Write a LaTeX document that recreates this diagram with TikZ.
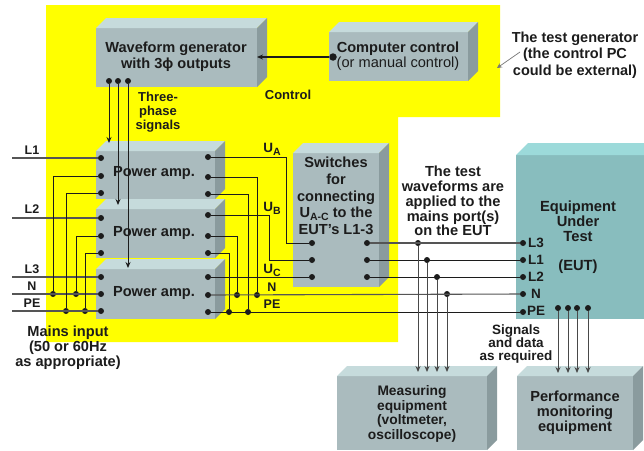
\documentclass[tikz,border=0pt]{standalone}
\usepackage{fontspec}
\setmainfont{Liberation Sans}
\usetikzlibrary{arrows.meta,calc}
\definecolor{yel}{RGB}{255,255,0}
\definecolor{ink}{RGB}{28,28,28}
\definecolor{gfront}{RGB}{170,187,190}
\definecolor{gtop}{RGB}{198,219,220}
\definecolor{gside}{RGB}{138,155,158}
\definecolor{tfront}{RGB}{136,189,190}
\definecolor{ttop}{RGB}{156,218,218}
\newcommand{\boxthree}[5]{% x1,y1,x2,y2,depth
  \fill[gfront] (#1,#2) rectangle (#3,#4);
  \fill[gtop] (#1,#2) -- ++(#5,-#5) -- ($(#3,#2)+(#5,-#5)$) -- (#3,#2) -- cycle;
  \fill[gside] (#3,#2) -- ++(#5,-#5) -- ($(#3,#4)+(#5,-#5)$) -- (#3,#4) -- cycle;
}
\newcommand{\subs}[1]{\raisebox{-3pt}{\fontsize{10.5}{10.5}\selectfont #1}}
\tikzset{
  wire/.style={draw=ink,line width=0.9pt},
  pale/.style={draw=ink!75,line width=1.1pt},
  arrowwire/.style={wire,-{Stealth[length=6pt,width=5pt]}},
  pin/.style={circle,fill=ink,inner sep=0pt,minimum size=6pt},
  lab/.style={font=\bfseries\fontsize{14.6}{16}\selectfont,text=ink,align=center,inner sep=0pt},
  smalllab/.style={font=\bfseries\fontsize{13}{14}\selectfont,text=ink,align=center,inner sep=0pt},
  tag/.style={font=\bfseries\fontsize{12.5}{14}\selectfont,text=ink,align=center,inner sep=0pt},
}
\begin{document}
\begin{tikzpicture}[x=1pt,y=-1pt]
\useasboundingbox (0,0) rectangle (644,450);
\fill[white] (0,0) rectangle (644,450);
\fill[yel] (46,5) -- (500,5) -- (500,117) -- (398,117) -- (398,342) -- (46,342) -- cycle;
% boxes
\boxthree{96}{28}{257}{87}{10}
\boxthree{329}{32}{468}{81}{10}
\boxthree{96}{151}{215}{199}{10}
\boxthree{96}{209}{215}{258}{10}
\boxthree{96}{269}{215}{319}{10}
\boxthree{293}{153}{379}{287}{10}
\boxthree{337}{376}{487}{450}{10}
\boxthree{517}{376}{633}{450}{10}
\fill[tfront] (516,155) rectangle (644,319);
\fill[ttop] (516,155) -- (528,143) -- (644,143) -- (644,155) -- cycle;
% pins
\foreach \n/\x/\y in {a1/101/158,a2/101/176,a3/101/193,b1/101/218,b2/101/236,b3/101/253,c1/101/277,c2/101/294,c3/101/311,
  d1/208/157,d2/208/177,d3/208/194,e1/208/215,e2/208/236,e3/208/253,f1/208/277,f2/208/295,f3/208/312,
  sl1/312/243,sl2/312/260,sl3/312/277,sr1/367/243,sr2/367/260,sr3/367/277,
  eL3/523/243,eL1/523/260,eL2/523/277,eN/523/294,ePE/523/312,
  jn1/53/294,jn2/76/294,jp1/66/311,jp2/85/311,jn3/237/295,jn4/257/295,jp3/229/312,jp4/248/312,
  m1/418/243,m2/427/260,m3/437/277,m4/447/294,
  w1/109/81,w2/118/81,w3/128/81,
  q1/558/308,q2/568/308,q3/577/308,q4/588/308}
  {\node[pin] (\n) at (\x,\y) {};}
\node[pin,minimum size=7.5pt] (cc) at (333,57) {};
% free ends
\foreach \n/\x/\y in {iL1/12/158,iL2/12/218,iL3/12/277,iN/12/294,iPE/12/311,
  wt/257/57,t1/109/143,t2/118/205,t3/128/268,
  ma/418/372,mb/427/372,mc/437/372,md/447/372,
  pa/558/373,pb/568/373,pc/577/373,pd/588/373,
  ga/520/52,gb/497/68,ub1/286/243,ub2/269/260}
  {\coordinate (\n) at (\x,\y);}
% input wires
\draw[pale] (iL1) -- (a1);
\draw[pale] (iL2) -- (b1);
\draw[pale] (iL3) -- (c1);
\draw[pale] (iN) -- (c2);
\draw[pale] (iPE) -- (c3);
\draw[wire] (jn1) |- (a2);
\draw[wire] (jn2) |- (b2);
\draw[wire] (jp1) |- (a3);
\draw[wire] (jp2) |- (b3);
% output wires
\draw[wire] (d1) -| (ub1) -- (sl1);
\draw[wire] (e1) -| (ub2) -- (sl2);
\draw[wire] (f1) -- (sl3);
\draw[wire] (d2) -| (jn4);
\draw[wire] (e2) -| (jn3);
\draw[wire] (d3) -| (jp4);
\draw[wire] (e3) -| (jp3);
\draw[pale] (f2) -- (eN);
\draw[wire] (f3) -- (ePE);
\draw[pale] (sr1) -- (eL3);
\draw[wire] (sr2) -- (eL1);
\draw[wire] (sr3) -- (eL2);
% arrows
\draw[arrowwire,line width=1.2pt] (cc) -- (wt);
\draw[arrowwire] (w1) -- (t1);
\draw[arrowwire] (w2) -- (t2);
\draw[arrowwire] (w3) -- (t3);
\draw[arrowwire,draw=ink!80] (m1) -- (ma);
\draw[arrowwire,draw=ink!80] (m2) -- (mb);
\draw[arrowwire,draw=ink!80] (m3) -- (mc);
\draw[arrowwire,draw=ink!80] (m4) -- (md);
\draw[arrowwire,draw=ink!80] (q1) -- (pa);
\draw[arrowwire,draw=ink!80] (q2) -- (pb);
\draw[arrowwire,draw=ink!80] (q3) -- (pc);
\draw[arrowwire,draw=ink!80] (q4) -- (pd);
\draw[draw=ink!60,line width=0.7pt,-{Stealth[length=5pt,width=5pt]}] (ga) -- (gb);
% labels
\node[lab,font=\bfseries\fontsize{14.6}{16}\selectfont] (tw) at (176,57) {Waveform generator\\with 3ϕ outputs};
\node[lab] (tc) at (398,49) {Computer control};
\node[inner sep=0pt,text=ink,font=\fontsize{14.6}{16}\selectfont] (tc2) at (398,64) {(or manual control)};
\node[smalllab] (tt) at (158,112) {Three-\\phase\\signals};
\node[smalllab] (tk) at (288,95) {Control};
\node[lab,font=\bfseries\fontsize{14.5}{16.5}\selectfont] (tg) at (575,55) {The test generator\\(the control PC\\could be external)};
\node[lab] (p1) at (154,173) {Power amp.};
\node[lab] (p2) at (154,233) {Power amp.};
\node[lab] (p3) at (154,293) {Power amp.};
\node[lab,font=\bfseries\fontsize{14.6}{16.7}\selectfont] (sw) at (336,196) {Switches\\for\\connecting\\U\subs{A-C} to the\\EUT's L1-3};
\node[lab,font=\bfseries\fontsize{14.6}{14.8}\selectfont] (tw2) at (453,201) {The test\\waveforms are\\applied to the\\mains port(s)\\on the EUT};
\node[lab,font=\bfseries\fontsize{14.7}{14.8}\selectfont] (eut) at (578,221) {Equipment\\Under\\Test};
\node[lab,font=\bfseries\fontsize{14.7}{15}\selectfont] (eut2) at (578,267) {(EUT)};
\foreach \n/\t/\x/\y in {lL3/L3/536/243,lL1/L1/536/260,lL2/L2/536/277,lN/N/536/294,lPE/PE/536/311}
  {\node[tag,font=\bfseries\fontsize{13.5}{14}\selectfont] (\n) at (\x,\y) {\t};}
\node[smalllab,font=\bfseries\fontsize{13.5}{12.7}\selectfont] (sig) at (516,344) {Signals\\and data\\as required};
\node[lab,font=\bfseries\fontsize{13.8}{14.7}\selectfont] (me) at (412,414) {Measuring\\equipment\\(voltmeter,\\oscilloscope)};
\node[lab,font=\bfseries\fontsize{14.6}{15}\selectfont] (pm) at (575,413) {Performance\\monitoring\\equipment};
\node[lab,font=\bfseries\fontsize{14.6}{15}\selectfont] (mi) at (68,348) {Mains input\\(50 or 60Hz\\as appropriate)};
\foreach \n/\t/\x/\y in {tL1/L1/32/150,tL2/L2/32/209,tL3/L3/32/269,tN/N/32/286,tPE/PE/32/303,tN2/N/272/287,tPE2/PE/272/304}
  {\node[tag] (\n) at (\x,\y) {\t};}
\node[tag,font=\bfseries\fontsize{13.5}{14}\selectfont] (ua) at (272,149) {U\subs{A}};
\node[tag,font=\bfseries\fontsize{13.5}{14}\selectfont] (ub) at (272,208) {U\subs{B}};
\node[tag,font=\bfseries\fontsize{13.5}{14}\selectfont] (uc) at (272,270) {U\subs{C}};
\end{tikzpicture}
\end{document}
